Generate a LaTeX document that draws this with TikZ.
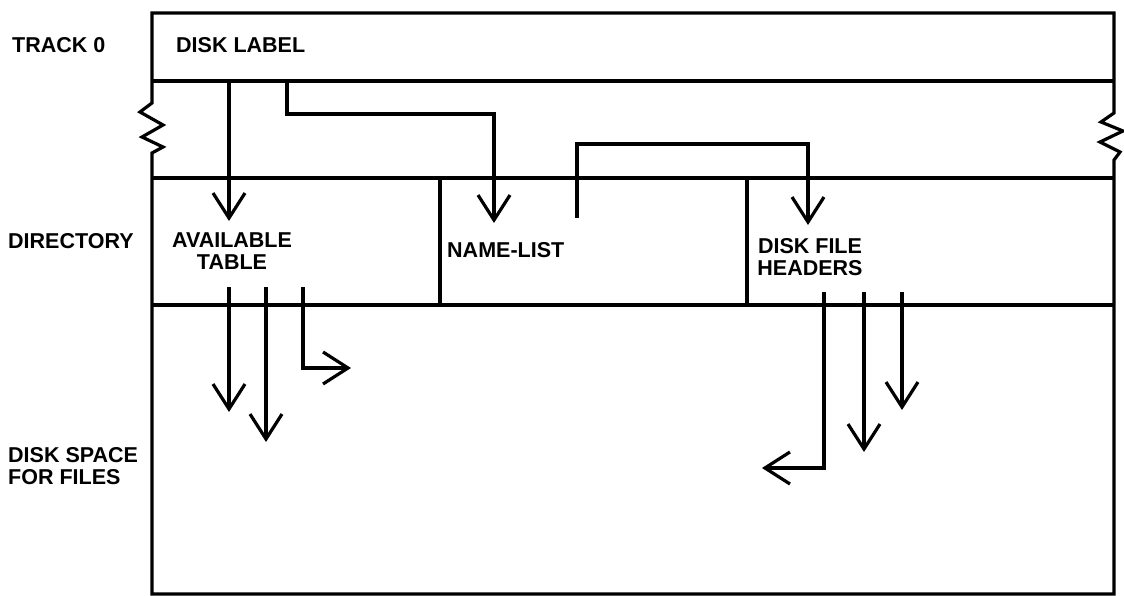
\documentclass[tikz,border=0pt]{standalone}
\usepackage{fontspec}
\setmainfont{Liberation Sans}
\usepackage{tikz}
\usetikzlibrary{arrows.meta,positioning,calc}

\begin{document}
\begin{tikzpicture}[
    x=1pt, y=-1pt,
    frame/.style={line width=3.2pt, line join=miter},
    link/.style={line width=3.2pt, ->},
    lbl/.style={font=\bfseries\fontsize{21.5}{22}\selectfont, inner sep=0pt},
    >={Straight Barb[length=25pt, width=32pt, line width=3.2pt]}
]
    \useasboundingbox (0,0) rectangle (1124,596);

    \node[lbl, anchor=west] (track) at (12,45) {TRACK 0};
    \node[lbl, anchor=west] (dlabel) at (176,45) {DISK LABEL};
    \node[lbl, anchor=west] (dir) at (8,241) {DIRECTORY};
    \node[lbl, align=center] (avail) at (232,251) {AVAILABLE\\TABLE};
    \node[lbl, anchor=west] (nlist) at (447,250) {NAME-LIST};
    \node[lbl, align=center] (dfh) at (810,257) {DISK FILE\\HEADERS};
    \node[lbl, align=left, anchor=west] (space) at (8,466) {DISK SPACE\\FOR FILES};

    \draw[frame] (152,103) -- (152,13) -- (1114,13) -- (1114,113) -- (1101,122) -- (1123,131)
        -- (1100,142) -- (1120,152) -- (1114,160) -- (1114,594) -- (152,594) -- (152,153)
        -- (163,147) -- (142,137) -- (163,125) -- (140,112) -- cycle;
    \draw[frame] (152,81) -- (1114,81);
    \draw[frame] (152,178) -- (1114,178);
    \draw[frame] (152,305) -- (1114,305);
    \draw[frame] (440,178) -- (440,305);
    \draw[frame] (747,178) -- (747,305);

    \coordinate (al) at (229,81);
    \coordinate (nl) at (287,81);
    \coordinate (hd) at (577,218);
    \coordinate (a1) at (229,287);
    \coordinate (a2) at (266,287);
    \coordinate (a3) at (303,287);
    \coordinate (h1) at (824,292);
    \coordinate (h2) at (864,292);
    \coordinate (h3) at (902,292);

    \draw[link] (al) -- (229,221);
    \draw[link] (nl) -- (287,114) -- (494,114) -- (494,223);
    \draw[link] (hd) -- (577,144) -- (808,144) -- (808,225);
    \draw[link] (a1) -- (229,412);
    \draw[link] (a2) -- (266,442);
    \draw[link] (a3) -- (303,368) -- (351,368);
    \draw[link] (h1) -- (824,468) -- (762,468);
    \draw[link] (h2) -- (864,452);
    \draw[link] (h3) -- (902,410);
\end{tikzpicture}
\end{document}
